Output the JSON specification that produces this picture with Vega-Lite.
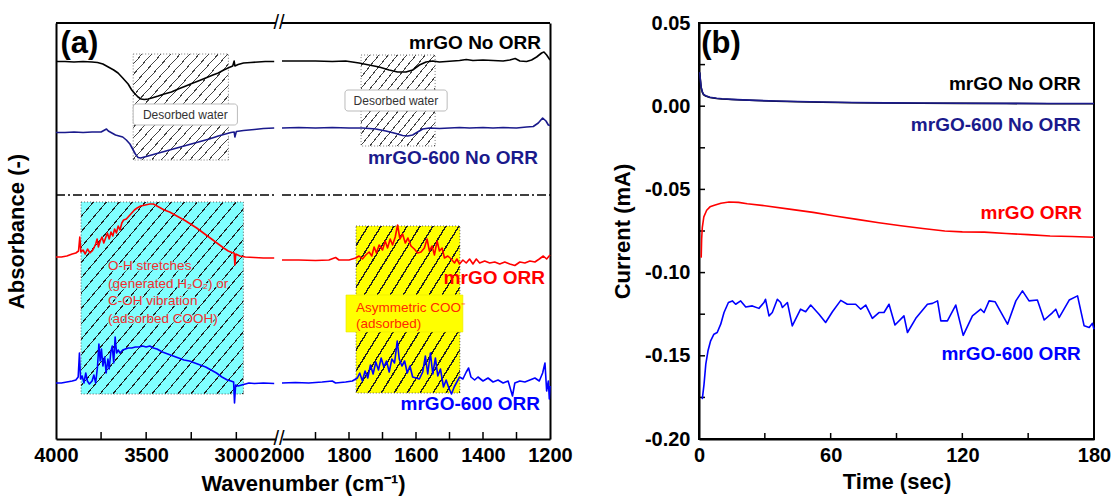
{
  "$schema": "https://vega.github.io/schema/vega-lite/v6.json",
  "padding": {"left": 5, "top": 12, "right": 0, "bottom": 3},
  "autosize": {"type": "pad"},
  "background": "#ffffff",
  "config": {
    "font": "Liberation Sans",
    "view": {"stroke": null},
    "axis": {"labelFont": "Liberation Sans", "labelFontSize": 20, "labelFontWeight": "bold", "labelColor": "#000", "titleFont": "Liberation Sans", "titleFontSize": 22, "titleFontWeight": "bold", "titleColor": "#000", "domainColor": "#000", "domainWidth": 2, "ticks": false, "grid": false, "labelOverlap": false, "labelFlush": false}
  },
  "datasets": {
    "hi": [
      {"w":4000,"a":377.5,"s":"mrGO No ORR"},{"w":3950,"a":377.5,"s":"mrGO No ORR"},{"w":3900,"a":377,"s":"mrGO No ORR"},{"w":3850,"a":377.5,"s":"mrGO No ORR"},{"w":3800,"a":377,"s":"mrGO No ORR"},{"w":3770,"a":376.5,"s":"mrGO No ORR"},{"w":3740,"a":375,"s":"mrGO No ORR"},{"w":3710,"a":372,"s":"mrGO No ORR"},{"w":3680,"a":369,"s":"mrGO No ORR"},{"w":3656,"a":366,"s":"mrGO No ORR"},{"w":3630,"a":361,"s":"mrGO No ORR"},{"w":3600,"a":355,"s":"mrGO No ORR"},{"w":3580,"a":349,"s":"mrGO No ORR"},{"w":3561,"a":345,"s":"mrGO No ORR"},{"w":3545,"a":342,"s":"mrGO No ORR"},{"w":3528,"a":340,"s":"mrGO No ORR"},{"w":3510,"a":339.5,"s":"mrGO No ORR"},{"w":3489,"a":340,"s":"mrGO No ORR"},{"w":3460,"a":341.5,"s":"mrGO No ORR"},{"w":3433,"a":343,"s":"mrGO No ORR"},{"w":3400,"a":345,"s":"mrGO No ORR"},{"w":3360,"a":347,"s":"mrGO No ORR"},{"w":3322,"a":350,"s":"mrGO No ORR"},{"w":3280,"a":353,"s":"mrGO No ORR"},{"w":3240,"a":356,"s":"mrGO No ORR"},{"w":3211,"a":358,"s":"mrGO No ORR"},{"w":3170,"a":361,"s":"mrGO No ORR"},{"w":3130,"a":364,"s":"mrGO No ORR"},{"w":3100,"a":366,"s":"mrGO No ORR"},{"w":3070,"a":369,"s":"mrGO No ORR"},{"w":3040,"a":371.5,"s":"mrGO No ORR"},{"w":3020,"a":373,"s":"mrGO No ORR"},{"w":3012,"a":378,"s":"mrGO No ORR"},{"w":3008,"a":373,"s":"mrGO No ORR"},{"w":2990,"a":374.5,"s":"mrGO No ORR"},{"w":2960,"a":376,"s":"mrGO No ORR"},{"w":2920,"a":376.5,"s":"mrGO No ORR"},{"w":2880,"a":377,"s":"mrGO No ORR"},{"w":2840,"a":377.5,"s":"mrGO No ORR"},{"w":2790,"a":377.5,"s":"mrGO No ORR"},
      {"w":4000,"a":306.5,"s":"mrGO-600 No ORR"},{"w":3950,"a":306.5,"s":"mrGO-600 No ORR"},{"w":3900,"a":307,"s":"mrGO-600 No ORR"},{"w":3850,"a":306.5,"s":"mrGO-600 No ORR"},{"w":3800,"a":307,"s":"mrGO-600 No ORR"},{"w":3750,"a":307,"s":"mrGO-600 No ORR"},{"w":3730,"a":309,"s":"mrGO-600 No ORR"},{"w":3720,"a":310,"s":"mrGO-600 No ORR"},{"w":3710,"a":308,"s":"mrGO-600 No ORR"},{"w":3690,"a":306,"s":"mrGO-600 No ORR"},{"w":3670,"a":304,"s":"mrGO-600 No ORR"},{"w":3650,"a":303,"s":"mrGO-600 No ORR"},{"w":3630,"a":302,"s":"mrGO-600 No ORR"},{"w":3610,"a":299,"s":"mrGO-600 No ORR"},{"w":3590,"a":295,"s":"mrGO-600 No ORR"},{"w":3575,"a":290,"s":"mrGO-600 No ORR"},{"w":3560,"a":285,"s":"mrGO-600 No ORR"},{"w":3545,"a":281.5,"s":"mrGO-600 No ORR"},{"w":3530,"a":281,"s":"mrGO-600 No ORR"},{"w":3500,"a":282.5,"s":"mrGO-600 No ORR"},{"w":3460,"a":284.5,"s":"mrGO-600 No ORR"},{"w":3420,"a":286.5,"s":"mrGO-600 No ORR"},{"w":3380,"a":288.5,"s":"mrGO-600 No ORR"},{"w":3340,"a":290.5,"s":"mrGO-600 No ORR"},{"w":3300,"a":292.5,"s":"mrGO-600 No ORR"},{"w":3250,"a":295,"s":"mrGO-600 No ORR"},{"w":3200,"a":297.5,"s":"mrGO-600 No ORR"},{"w":3150,"a":300,"s":"mrGO-600 No ORR"},{"w":3100,"a":303,"s":"mrGO-600 No ORR"},{"w":3060,"a":305,"s":"mrGO-600 No ORR"},{"w":3030,"a":306.5,"s":"mrGO-600 No ORR"},{"w":3012,"a":307,"s":"mrGO-600 No ORR"},{"w":3008,"a":302,"s":"mrGO-600 No ORR"},{"w":3000,"a":307.5,"s":"mrGO-600 No ORR"},{"w":2960,"a":308.5,"s":"mrGO-600 No ORR"},{"w":2900,"a":309.5,"s":"mrGO-600 No ORR"},{"w":2850,"a":310.5,"s":"mrGO-600 No ORR"},{"w":2790,"a":311,"s":"mrGO-600 No ORR"},
      {"w":4000,"a":182,"s":"mrGO ORR"},{"w":3970,"a":182,"s":"mrGO ORR"},{"w":3940,"a":183,"s":"mrGO ORR"},{"w":3910,"a":185,"s":"mrGO ORR"},{"w":3890,"a":186,"s":"mrGO ORR"},{"w":3875,"a":188,"s":"mrGO ORR"},{"w":3868,"a":202,"s":"mrGO ORR"},{"w":3862,"a":187,"s":"mrGO ORR"},{"w":3850,"a":189,"s":"mrGO ORR"},{"w":3838,"a":185,"s":"mrGO ORR"},{"w":3825,"a":190,"s":"mrGO ORR"},{"w":3812,"a":186,"s":"mrGO ORR"},{"w":3800,"a":188,"s":"mrGO ORR"},{"w":3790,"a":191,"s":"mrGO ORR"},{"w":3780,"a":195,"s":"mrGO ORR"},{"w":3772,"a":200,"s":"mrGO ORR"},{"w":3765,"a":192,"s":"mrGO ORR"},{"w":3755,"a":198,"s":"mrGO ORR"},{"w":3745,"a":202,"s":"mrGO ORR"},{"w":3735,"a":196,"s":"mrGO ORR"},{"w":3725,"a":201,"s":"mrGO ORR"},{"w":3715,"a":206,"s":"mrGO ORR"},{"w":3705,"a":200,"s":"mrGO ORR"},{"w":3695,"a":207,"s":"mrGO ORR"},{"w":3685,"a":203,"s":"mrGO ORR"},{"w":3675,"a":210,"s":"mrGO ORR"},{"w":3665,"a":206,"s":"mrGO ORR"},{"w":3655,"a":213,"s":"mrGO ORR"},{"w":3645,"a":209,"s":"mrGO ORR"},{"w":3635,"a":216,"s":"mrGO ORR"},{"w":3625,"a":219,"s":"mrGO ORR"},{"w":3610,"a":220,"s":"mrGO ORR"},{"w":3595,"a":223,"s":"mrGO ORR"},{"w":3580,"a":226,"s":"mrGO ORR"},{"w":3565,"a":229,"s":"mrGO ORR"},{"w":3550,"a":231,"s":"mrGO ORR"},{"w":3530,"a":233,"s":"mrGO ORR"},{"w":3505,"a":234,"s":"mrGO ORR"},{"w":3480,"a":235,"s":"mrGO ORR"},{"w":3460,"a":235,"s":"mrGO ORR"},{"w":3440,"a":233,"s":"mrGO ORR"},{"w":3420,"a":231,"s":"mrGO ORR"},{"w":3400,"a":229,"s":"mrGO ORR"},{"w":3370,"a":227,"s":"mrGO ORR"},{"w":3340,"a":224,"s":"mrGO ORR"},{"w":3310,"a":221,"s":"mrGO ORR"},{"w":3280,"a":218,"s":"mrGO ORR"},{"w":3250,"a":214.5,"s":"mrGO ORR"},{"w":3220,"a":211,"s":"mrGO ORR"},{"w":3190,"a":207,"s":"mrGO ORR"},{"w":3160,"a":203,"s":"mrGO ORR"},{"w":3130,"a":199,"s":"mrGO ORR"},{"w":3100,"a":195,"s":"mrGO ORR"},{"w":3070,"a":191,"s":"mrGO ORR"},{"w":3045,"a":188,"s":"mrGO ORR"},{"w":3025,"a":186.5,"s":"mrGO ORR"},{"w":3012,"a":186,"s":"mrGO ORR"},{"w":3008,"a":174,"s":"mrGO ORR"},{"w":3003,"a":185,"s":"mrGO ORR"},{"w":2980,"a":183,"s":"mrGO ORR"},{"w":2950,"a":182,"s":"mrGO ORR"},{"w":2900,"a":181.5,"s":"mrGO ORR"},{"w":2850,"a":181,"s":"mrGO ORR"},{"w":2790,"a":181,"s":"mrGO ORR"},
      {"w":4000,"a":56,"s":"mrGO-600 ORR"},{"w":3970,"a":56,"s":"mrGO-600 ORR"},{"w":3940,"a":57,"s":"mrGO-600 ORR"},{"w":3910,"a":58,"s":"mrGO-600 ORR"},{"w":3890,"a":59,"s":"mrGO-600 ORR"},{"w":3877,"a":62,"s":"mrGO-600 ORR"},{"w":3870,"a":86,"s":"mrGO-600 ORR"},{"w":3864,"a":60,"s":"mrGO-600 ORR"},{"w":3855,"a":63,"s":"mrGO-600 ORR"},{"w":3845,"a":56,"s":"mrGO-600 ORR"},{"w":3835,"a":66,"s":"mrGO-600 ORR"},{"w":3826,"a":58,"s":"mrGO-600 ORR"},{"w":3815,"a":55,"s":"mrGO-600 ORR"},{"w":3800,"a":58,"s":"mrGO-600 ORR"},{"w":3790,"a":64,"s":"mrGO-600 ORR"},{"w":3780,"a":56,"s":"mrGO-600 ORR"},{"w":3770,"a":72,"s":"mrGO-600 ORR"},{"w":3762,"a":95,"s":"mrGO-600 ORR"},{"w":3755,"a":78,"s":"mrGO-600 ORR"},{"w":3748,"a":90,"s":"mrGO-600 ORR"},{"w":3740,"a":73,"s":"mrGO-600 ORR"},{"w":3730,"a":82,"s":"mrGO-600 ORR"},{"w":3722,"a":66,"s":"mrGO-600 ORR"},{"w":3712,"a":80,"s":"mrGO-600 ORR"},{"w":3705,"a":70,"s":"mrGO-600 ORR"},{"w":3696,"a":87,"s":"mrGO-600 ORR"},{"w":3688,"a":93,"s":"mrGO-600 ORR"},{"w":3680,"a":76,"s":"mrGO-600 ORR"},{"w":3672,"a":102,"s":"mrGO-600 ORR"},{"w":3664,"a":86,"s":"mrGO-600 ORR"},{"w":3655,"a":89,"s":"mrGO-600 ORR"},{"w":3645,"a":86,"s":"mrGO-600 ORR"},{"w":3630,"a":89,"s":"mrGO-600 ORR"},{"w":3615,"a":90,"s":"mrGO-600 ORR"},{"w":3600,"a":91,"s":"mrGO-600 ORR"},{"w":3580,"a":91,"s":"mrGO-600 ORR"},{"w":3560,"a":92,"s":"mrGO-600 ORR"},{"w":3540,"a":92,"s":"mrGO-600 ORR"},{"w":3520,"a":93,"s":"mrGO-600 ORR"},{"w":3500,"a":92,"s":"mrGO-600 ORR"},{"w":3480,"a":93,"s":"mrGO-600 ORR"},{"w":3460,"a":91,"s":"mrGO-600 ORR"},{"w":3440,"a":90,"s":"mrGO-600 ORR"},{"w":3410,"a":87,"s":"mrGO-600 ORR"},{"w":3380,"a":85,"s":"mrGO-600 ORR"},{"w":3350,"a":83,"s":"mrGO-600 ORR"},{"w":3320,"a":81,"s":"mrGO-600 ORR"},{"w":3290,"a":79,"s":"mrGO-600 ORR"},{"w":3260,"a":78,"s":"mrGO-600 ORR"},{"w":3230,"a":76,"s":"mrGO-600 ORR"},{"w":3200,"a":74,"s":"mrGO-600 ORR"},{"w":3170,"a":72,"s":"mrGO-600 ORR"},{"w":3140,"a":69,"s":"mrGO-600 ORR"},{"w":3110,"a":66,"s":"mrGO-600 ORR"},{"w":3080,"a":62,"s":"mrGO-600 ORR"},{"w":3050,"a":59,"s":"mrGO-600 ORR"},{"w":3030,"a":58,"s":"mrGO-600 ORR"},{"w":3015,"a":57,"s":"mrGO-600 ORR"},{"w":3010,"a":36,"s":"mrGO-600 ORR"},{"w":3004,"a":54,"s":"mrGO-600 ORR"},{"w":2990,"a":53,"s":"mrGO-600 ORR"},{"w":2970,"a":54,"s":"mrGO-600 ORR"},{"w":2950,"a":55,"s":"mrGO-600 ORR"},{"w":2930,"a":56,"s":"mrGO-600 ORR"},{"w":2900,"a":55.5,"s":"mrGO-600 ORR"},{"w":2850,"a":56,"s":"mrGO-600 ORR"},{"w":2790,"a":55.5,"s":"mrGO-600 ORR"}
    ],
    "lo": [
      {"w":2000,"a":378,"s":"mrGO No ORR"},{"w":1950,"a":378,"s":"mrGO No ORR"},{"w":1900,"a":378,"s":"mrGO No ORR"},{"w":1850,"a":377.5,"s":"mrGO No ORR"},{"w":1810,"a":378,"s":"mrGO No ORR"},{"w":1790,"a":377,"s":"mrGO No ORR"},{"w":1770,"a":376,"s":"mrGO No ORR"},{"w":1740,"a":374,"s":"mrGO No ORR"},{"w":1710,"a":372,"s":"mrGO No ORR"},{"w":1680,"a":369,"s":"mrGO No ORR"},{"w":1655,"a":367,"s":"mrGO No ORR"},{"w":1630,"a":367,"s":"mrGO No ORR"},{"w":1610,"a":369,"s":"mrGO No ORR"},{"w":1590,"a":374,"s":"mrGO No ORR"},{"w":1570,"a":377,"s":"mrGO No ORR"},{"w":1550,"a":378,"s":"mrGO No ORR"},{"w":1530,"a":377,"s":"mrGO No ORR"},{"w":1510,"a":377.5,"s":"mrGO No ORR"},{"w":1490,"a":378,"s":"mrGO No ORR"},{"w":1470,"a":378.5,"s":"mrGO No ORR"},{"w":1450,"a":379.5,"s":"mrGO No ORR"},{"w":1430,"a":378.5,"s":"mrGO No ORR"},{"w":1400,"a":379,"s":"mrGO No ORR"},{"w":1370,"a":378.5,"s":"mrGO No ORR"},{"w":1340,"a":378,"s":"mrGO No ORR"},{"w":1320,"a":379,"s":"mrGO No ORR"},{"w":1304,"a":380.5,"s":"mrGO No ORR"},{"w":1290,"a":378,"s":"mrGO No ORR"},{"w":1270,"a":377.5,"s":"mrGO No ORR"},{"w":1255,"a":379,"s":"mrGO No ORR"},{"w":1240,"a":382,"s":"mrGO No ORR"},{"w":1225,"a":386,"s":"mrGO No ORR"},{"w":1218,"a":387,"s":"mrGO No ORR"},{"w":1210,"a":384,"s":"mrGO No ORR"},{"w":1200,"a":379,"s":"mrGO No ORR"},
      {"w":2000,"a":311,"s":"mrGO-600 No ORR"},{"w":1950,"a":311.5,"s":"mrGO-600 No ORR"},{"w":1900,"a":311,"s":"mrGO-600 No ORR"},{"w":1850,"a":311.5,"s":"mrGO-600 No ORR"},{"w":1800,"a":311,"s":"mrGO-600 No ORR"},{"w":1760,"a":311,"s":"mrGO-600 No ORR"},{"w":1720,"a":310,"s":"mrGO-600 No ORR"},{"w":1690,"a":308,"s":"mrGO-600 No ORR"},{"w":1660,"a":305.5,"s":"mrGO-600 No ORR"},{"w":1640,"a":303.5,"s":"mrGO-600 No ORR"},{"w":1625,"a":303,"s":"mrGO-600 No ORR"},{"w":1610,"a":304,"s":"mrGO-600 No ORR"},{"w":1595,"a":307,"s":"mrGO-600 No ORR"},{"w":1580,"a":310,"s":"mrGO-600 No ORR"},{"w":1560,"a":311,"s":"mrGO-600 No ORR"},{"w":1530,"a":310.5,"s":"mrGO-600 No ORR"},{"w":1500,"a":311,"s":"mrGO-600 No ORR"},{"w":1470,"a":311.5,"s":"mrGO-600 No ORR"},{"w":1440,"a":311,"s":"mrGO-600 No ORR"},{"w":1400,"a":311.5,"s":"mrGO-600 No ORR"},{"w":1370,"a":311,"s":"mrGO-600 No ORR"},{"w":1340,"a":311.5,"s":"mrGO-600 No ORR"},{"w":1300,"a":311,"s":"mrGO-600 No ORR"},{"w":1270,"a":312,"s":"mrGO-600 No ORR"},{"w":1250,"a":312.5,"s":"mrGO-600 No ORR"},{"w":1235,"a":316,"s":"mrGO-600 No ORR"},{"w":1222,"a":321,"s":"mrGO-600 No ORR"},{"w":1212,"a":318,"s":"mrGO-600 No ORR"},{"w":1205,"a":314,"s":"mrGO-600 No ORR"},{"w":1200,"a":313.5,"s":"mrGO-600 No ORR"},
      {"w":2000,"a":179,"s":"mrGO ORR"},{"w":1950,"a":179,"s":"mrGO ORR"},{"w":1900,"a":178.5,"s":"mrGO ORR"},{"w":1860,"a":179,"s":"mrGO ORR"},{"w":1840,"a":181.5,"s":"mrGO ORR"},{"w":1830,"a":179,"s":"mrGO ORR"},{"w":1800,"a":179,"s":"mrGO ORR"},{"w":1780,"a":181,"s":"mrGO ORR"},{"w":1770,"a":183,"s":"mrGO ORR"},{"w":1760,"a":180,"s":"mrGO ORR"},{"w":1750,"a":184,"s":"mrGO ORR"},{"w":1740,"a":187,"s":"mrGO ORR"},{"w":1732,"a":183,"s":"mrGO ORR"},{"w":1725,"a":192,"s":"mrGO ORR"},{"w":1718,"a":186,"s":"mrGO ORR"},{"w":1710,"a":194,"s":"mrGO ORR"},{"w":1700,"a":189,"s":"mrGO ORR"},{"w":1692,"a":198,"s":"mrGO ORR"},{"w":1685,"a":191,"s":"mrGO ORR"},{"w":1677,"a":200,"s":"mrGO ORR"},{"w":1670,"a":194,"s":"mrGO ORR"},{"w":1662,"a":202,"s":"mrGO ORR"},{"w":1655,"a":214,"s":"mrGO ORR"},{"w":1648,"a":200,"s":"mrGO ORR"},{"w":1640,"a":205,"s":"mrGO ORR"},{"w":1632,"a":196,"s":"mrGO ORR"},{"w":1624,"a":201,"s":"mrGO ORR"},{"w":1615,"a":193,"s":"mrGO ORR"},{"w":1605,"a":190,"s":"mrGO ORR"},{"w":1595,"a":186,"s":"mrGO ORR"},{"w":1585,"a":187,"s":"mrGO ORR"},{"w":1575,"a":191,"s":"mrGO ORR"},{"w":1567,"a":200,"s":"mrGO ORR"},{"w":1560,"a":188,"s":"mrGO ORR"},{"w":1552,"a":193,"s":"mrGO ORR"},{"w":1545,"a":184,"s":"mrGO ORR"},{"w":1537,"a":198,"s":"mrGO ORR"},{"w":1530,"a":188,"s":"mrGO ORR"},{"w":1522,"a":191,"s":"mrGO ORR"},{"w":1515,"a":181,"s":"mrGO ORR"},{"w":1505,"a":183,"s":"mrGO ORR"},{"w":1495,"a":180,"s":"mrGO ORR"},{"w":1485,"a":176,"s":"mrGO ORR"},{"w":1478,"a":180,"s":"mrGO ORR"},{"w":1470,"a":175,"s":"mrGO ORR"},{"w":1460,"a":179,"s":"mrGO ORR"},{"w":1450,"a":176,"s":"mrGO ORR"},{"w":1440,"a":180,"s":"mrGO ORR"},{"w":1430,"a":175,"s":"mrGO ORR"},{"w":1420,"a":180,"s":"mrGO ORR"},{"w":1410,"a":176,"s":"mrGO ORR"},{"w":1395,"a":178,"s":"mrGO ORR"},{"w":1380,"a":176,"s":"mrGO ORR"},{"w":1365,"a":177,"s":"mrGO ORR"},{"w":1350,"a":175,"s":"mrGO ORR"},{"w":1335,"a":177,"s":"mrGO ORR"},{"w":1320,"a":175,"s":"mrGO ORR"},{"w":1305,"a":173.5,"s":"mrGO ORR"},{"w":1290,"a":177,"s":"mrGO ORR"},{"w":1275,"a":176,"s":"mrGO ORR"},{"w":1260,"a":178,"s":"mrGO ORR"},{"w":1245,"a":177,"s":"mrGO ORR"},{"w":1232,"a":180,"s":"mrGO ORR"},{"w":1220,"a":183,"s":"mrGO ORR"},{"w":1210,"a":180,"s":"mrGO ORR"},{"w":1200,"a":184,"s":"mrGO ORR"},
      {"w":2000,"a":56,"s":"mrGO-600 ORR"},{"w":1960,"a":56.5,"s":"mrGO-600 ORR"},{"w":1920,"a":56,"s":"mrGO-600 ORR"},{"w":1880,"a":57,"s":"mrGO-600 ORR"},{"w":1850,"a":58,"s":"mrGO-600 ORR"},{"w":1840,"a":56,"s":"mrGO-600 ORR"},{"w":1810,"a":57,"s":"mrGO-600 ORR"},{"w":1790,"a":58,"s":"mrGO-600 ORR"},{"w":1775,"a":61,"s":"mrGO-600 ORR"},{"w":1768,"a":66,"s":"mrGO-600 ORR"},{"w":1760,"a":58,"s":"mrGO-600 ORR"},{"w":1752,"a":68,"s":"mrGO-600 ORR"},{"w":1744,"a":61,"s":"mrGO-600 ORR"},{"w":1736,"a":74,"s":"mrGO-600 ORR"},{"w":1728,"a":65,"s":"mrGO-600 ORR"},{"w":1720,"a":77,"s":"mrGO-600 ORR"},{"w":1712,"a":69,"s":"mrGO-600 ORR"},{"w":1704,"a":81,"s":"mrGO-600 ORR"},{"w":1696,"a":72,"s":"mrGO-600 ORR"},{"w":1688,"a":78,"s":"mrGO-600 ORR"},{"w":1680,"a":67,"s":"mrGO-600 ORR"},{"w":1672,"a":80,"s":"mrGO-600 ORR"},{"w":1664,"a":76,"s":"mrGO-600 ORR"},{"w":1656,"a":98,"s":"mrGO-600 ORR"},{"w":1650,"a":80,"s":"mrGO-600 ORR"},{"w":1642,"a":73,"s":"mrGO-600 ORR"},{"w":1634,"a":78,"s":"mrGO-600 ORR"},{"w":1626,"a":66,"s":"mrGO-600 ORR"},{"w":1618,"a":73,"s":"mrGO-600 ORR"},{"w":1610,"a":62,"s":"mrGO-600 ORR"},{"w":1600,"a":61,"s":"mrGO-600 ORR"},{"w":1590,"a":60,"s":"mrGO-600 ORR"},{"w":1580,"a":67,"s":"mrGO-600 ORR"},{"w":1572,"a":83,"s":"mrGO-600 ORR"},{"w":1565,"a":65,"s":"mrGO-600 ORR"},{"w":1557,"a":86,"s":"mrGO-600 ORR"},{"w":1550,"a":65,"s":"mrGO-600 ORR"},{"w":1542,"a":81,"s":"mrGO-600 ORR"},{"w":1535,"a":63,"s":"mrGO-600 ORR"},{"w":1527,"a":70,"s":"mrGO-600 ORR"},{"w":1518,"a":52,"s":"mrGO-600 ORR"},{"w":1510,"a":59,"s":"mrGO-600 ORR"},{"w":1502,"a":51,"s":"mrGO-600 ORR"},{"w":1494,"a":45,"s":"mrGO-600 ORR"},{"w":1486,"a":52,"s":"mrGO-600 ORR"},{"w":1478,"a":57,"s":"mrGO-600 ORR"},{"w":1470,"a":62,"s":"mrGO-600 ORR"},{"w":1460,"a":60,"s":"mrGO-600 ORR"},{"w":1450,"a":67,"s":"mrGO-600 ORR"},{"w":1443,"a":71,"s":"mrGO-600 ORR"},{"w":1436,"a":62,"s":"mrGO-600 ORR"},{"w":1425,"a":59,"s":"mrGO-600 ORR"},{"w":1415,"a":62,"s":"mrGO-600 ORR"},{"w":1400,"a":58,"s":"mrGO-600 ORR"},{"w":1385,"a":61,"s":"mrGO-600 ORR"},{"w":1370,"a":57,"s":"mrGO-600 ORR"},{"w":1355,"a":59,"s":"mrGO-600 ORR"},{"w":1340,"a":56,"s":"mrGO-600 ORR"},{"w":1325,"a":58,"s":"mrGO-600 ORR"},{"w":1312,"a":43,"s":"mrGO-600 ORR"},{"w":1305,"a":56,"s":"mrGO-600 ORR"},{"w":1290,"a":58,"s":"mrGO-600 ORR"},{"w":1275,"a":57,"s":"mrGO-600 ORR"},{"w":1260,"a":59,"s":"mrGO-600 ORR"},{"w":1245,"a":61,"s":"mrGO-600 ORR"},{"w":1232,"a":58,"s":"mrGO-600 ORR"},{"w":1222,"a":66,"s":"mrGO-600 ORR"},{"w":1215,"a":76,"s":"mrGO-600 ORR"},{"w":1210,"a":48,"s":"mrGO-600 ORR"},{"w":1205,"a":58,"s":"mrGO-600 ORR"},{"w":1202,"a":40,"s":"mrGO-600 ORR"},{"w":1200,"a":53,"s":"mrGO-600 ORR"}
    ],
    "ca": [
      {"t":0.3,"i":0.02,"s":"mrGO No ORR"},{"t":0.6,"i":0.016,"s":"mrGO No ORR"},{"t":1,"i":0.011,"s":"mrGO No ORR"},{"t":1.5,"i":0.0085,"s":"mrGO No ORR"},{"t":2,"i":0.007,"s":"mrGO No ORR"},{"t":3,"i":0.0061,"s":"mrGO No ORR"},{"t":5,"i":0.0052,"s":"mrGO No ORR"},{"t":8,"i":0.0046,"s":"mrGO No ORR"},{"t":10.5,"i":0.0043,"s":"mrGO No ORR"},{"t":15,"i":0.004,"s":"mrGO No ORR"},{"t":20,"i":0.0037,"s":"mrGO No ORR"},{"t":26,"i":0.0034,"s":"mrGO No ORR"},{"t":35,"i":0.003,"s":"mrGO No ORR"},{"t":45,"i":0.0027,"s":"mrGO No ORR"},{"t":56,"i":0.0024,"s":"mrGO No ORR"},{"t":70,"i":0.0021,"s":"mrGO No ORR"},{"t":85,"i":0.0019,"s":"mrGO No ORR"},{"t":101,"i":0.0018,"s":"mrGO No ORR"},{"t":120,"i":0.0017,"s":"mrGO No ORR"},{"t":140,"i":0.0016,"s":"mrGO No ORR"},{"t":160,"i":0.0015,"s":"mrGO No ORR"},{"t":180,"i":0.0015,"s":"mrGO No ORR"},
      {"t":0.3,"i":0.0205,"s":"mrGO-600 No ORR"},{"t":0.6,"i":0.0163,"s":"mrGO-600 No ORR"},{"t":1,"i":0.0113,"s":"mrGO-600 No ORR"},{"t":1.5,"i":0.0088,"s":"mrGO-600 No ORR"},{"t":2,"i":0.0073,"s":"mrGO-600 No ORR"},{"t":3,"i":0.0063,"s":"mrGO-600 No ORR"},{"t":5,"i":0.0054,"s":"mrGO-600 No ORR"},{"t":8,"i":0.0048,"s":"mrGO-600 No ORR"},{"t":10.5,"i":0.0045,"s":"mrGO-600 No ORR"},{"t":15,"i":0.0041,"s":"mrGO-600 No ORR"},{"t":20,"i":0.0038,"s":"mrGO-600 No ORR"},{"t":26,"i":0.0035,"s":"mrGO-600 No ORR"},{"t":35,"i":0.0031,"s":"mrGO-600 No ORR"},{"t":45,"i":0.0028,"s":"mrGO-600 No ORR"},{"t":56,"i":0.0025,"s":"mrGO-600 No ORR"},{"t":70,"i":0.0022,"s":"mrGO-600 No ORR"},{"t":85,"i":0.002,"s":"mrGO-600 No ORR"},{"t":101,"i":0.0019,"s":"mrGO-600 No ORR"},{"t":120,"i":0.0018,"s":"mrGO-600 No ORR"},{"t":140,"i":0.0017,"s":"mrGO-600 No ORR"},{"t":160,"i":0.0016,"s":"mrGO-600 No ORR"},{"t":180,"i":0.0016,"s":"mrGO-600 No ORR"},
      {"t":1,"i":-0.091,"s":"mrGO ORR"},{"t":1.2,"i":-0.08,"s":"mrGO ORR"},{"t":1.5,"i":-0.073,"s":"mrGO ORR"},{"t":2.2,"i":-0.0665,"s":"mrGO ORR"},{"t":3.5,"i":-0.0625,"s":"mrGO ORR"},{"t":5,"i":-0.0605,"s":"mrGO ORR"},{"t":7,"i":-0.0595,"s":"mrGO ORR"},{"t":10,"i":-0.0583,"s":"mrGO ORR"},{"t":13.7,"i":-0.0576,"s":"mrGO ORR"},{"t":18,"i":-0.0578,"s":"mrGO ORR"},{"t":22,"i":-0.0586,"s":"mrGO ORR"},{"t":30,"i":-0.0598,"s":"mrGO ORR"},{"t":42,"i":-0.062,"s":"mrGO ORR"},{"t":52,"i":-0.0638,"s":"mrGO ORR"},{"t":62,"i":-0.066,"s":"mrGO ORR"},{"t":72,"i":-0.068,"s":"mrGO ORR"},{"t":82,"i":-0.07,"s":"mrGO ORR"},{"t":92,"i":-0.0718,"s":"mrGO ORR"},{"t":102,"i":-0.0735,"s":"mrGO ORR"},{"t":112,"i":-0.075,"s":"mrGO ORR"},{"t":120,"i":-0.0755,"s":"mrGO ORR"},{"t":130,"i":-0.0757,"s":"mrGO ORR"},{"t":140,"i":-0.0765,"s":"mrGO ORR"},{"t":150,"i":-0.0772,"s":"mrGO ORR"},{"t":160,"i":-0.078,"s":"mrGO ORR"},{"t":170,"i":-0.0783,"s":"mrGO ORR"},{"t":180,"i":-0.0788,"s":"mrGO ORR"},
      {"t":1.5,"i":-0.176,"s":"mrGO-600 ORR"},{"t":2.3,"i":-0.167,"s":"mrGO-600 ORR"},{"t":3.1,"i":-0.155,"s":"mrGO-600 ORR"},{"t":4.1,"i":-0.147,"s":"mrGO-600 ORR"},{"t":5.3,"i":-0.141,"s":"mrGO-600 ORR"},{"t":6.8,"i":-0.137,"s":"mrGO-600 ORR"},{"t":8.3,"i":-0.136,"s":"mrGO-600 ORR"},{"t":9.9,"i":-0.131,"s":"mrGO-600 ORR"},{"t":11.4,"i":-0.124,"s":"mrGO-600 ORR"},{"t":13.4,"i":-0.118,"s":"mrGO-600 ORR"},{"t":15.2,"i":-0.117,"s":"mrGO-600 ORR"},{"t":16.7,"i":-0.119,"s":"mrGO-600 ORR"},{"t":19,"i":-0.117,"s":"mrGO-600 ORR"},{"t":21.3,"i":-0.1207,"s":"mrGO-600 ORR"},{"t":24.3,"i":-0.12,"s":"mrGO-600 ORR"},{"t":27.3,"i":-0.1215,"s":"mrGO-600 ORR"},{"t":29.6,"i":-0.118,"s":"mrGO-600 ORR"},{"t":30.3,"i":-0.116,"s":"mrGO-600 ORR"},{"t":31.9,"i":-0.126,"s":"mrGO-600 ORR"},{"t":33.4,"i":-0.124,"s":"mrGO-600 ORR"},{"t":35.7,"i":-0.116,"s":"mrGO-600 ORR"},{"t":37.2,"i":-0.118,"s":"mrGO-600 ORR"},{"t":38,"i":-0.121,"s":"mrGO-600 ORR"},{"t":40.3,"i":-0.118,"s":"mrGO-600 ORR"},{"t":42.5,"i":-0.132,"s":"mrGO-600 ORR"},{"t":46.3,"i":-0.122,"s":"mrGO-600 ORR"},{"t":48.6,"i":-0.1235,"s":"mrGO-600 ORR"},{"t":50.9,"i":-0.1195,"s":"mrGO-600 ORR"},{"t":54.7,"i":-0.125,"s":"mrGO-600 ORR"},{"t":57.7,"i":-0.13,"s":"mrGO-600 ORR"},{"t":60.8,"i":-0.1235,"s":"mrGO-600 ORR"},{"t":64.6,"i":-0.1167,"s":"mrGO-600 ORR"},{"t":67.6,"i":-0.119,"s":"mrGO-600 ORR"},{"t":71.4,"i":-0.119,"s":"mrGO-600 ORR"},{"t":73.7,"i":-0.122,"s":"mrGO-600 ORR"},{"t":76,"i":-0.1195,"s":"mrGO-600 ORR"},{"t":79,"i":-0.1275,"s":"mrGO-600 ORR"},{"t":82,"i":-0.124,"s":"mrGO-600 ORR"},{"t":84.3,"i":-0.124,"s":"mrGO-600 ORR"},{"t":86.6,"i":-0.119,"s":"mrGO-600 ORR"},{"t":89.3,"i":-0.1315,"s":"mrGO-600 ORR"},{"t":93.4,"i":-0.126,"s":"mrGO-600 ORR"},{"t":95,"i":-0.136,"s":"mrGO-600 ORR"},{"t":98.8,"i":-0.1275,"s":"mrGO-600 ORR"},{"t":104.1,"i":-0.119,"s":"mrGO-600 ORR"},{"t":106.4,"i":-0.1185,"s":"mrGO-600 ORR"},{"t":108.7,"i":-0.117,"s":"mrGO-600 ORR"},{"t":110.2,"i":-0.129,"s":"mrGO-600 ORR"},{"t":113.2,"i":-0.129,"s":"mrGO-600 ORR"},{"t":117,"i":-0.1195,"s":"mrGO-600 ORR"},{"t":120.4,"i":-0.1377,"s":"mrGO-600 ORR"},{"t":124.6,"i":-0.126,"s":"mrGO-600 ORR"},{"t":128.4,"i":-0.122,"s":"mrGO-600 ORR"},{"t":129.9,"i":-0.124,"s":"mrGO-600 ORR"},{"t":132.2,"i":-0.117,"s":"mrGO-600 ORR"},{"t":134.9,"i":-0.1175,"s":"mrGO-600 ORR"},{"t":136.8,"i":-0.122,"s":"mrGO-600 ORR"},{"t":140.6,"i":-0.131,"s":"mrGO-600 ORR"},{"t":144.4,"i":-0.117,"s":"mrGO-600 ORR"},{"t":147.4,"i":-0.111,"s":"mrGO-600 ORR"},{"t":150.4,"i":-0.117,"s":"mrGO-600 ORR"},{"t":154.2,"i":-0.1165,"s":"mrGO-600 ORR"},{"t":157.3,"i":-0.1285,"s":"mrGO-600 ORR"},{"t":161.1,"i":-0.124,"s":"mrGO-600 ORR"},{"t":162.6,"i":-0.122,"s":"mrGO-600 ORR"},{"t":164.1,"i":-0.127,"s":"mrGO-600 ORR"},{"t":168.7,"i":-0.1165,"s":"mrGO-600 ORR"},{"t":172.5,"i":-0.114,"s":"mrGO-600 ORR"},{"t":175.5,"i":-0.132,"s":"mrGO-600 ORR"},{"t":177.8,"i":-0.133,"s":"mrGO-600 ORR"},{"t":179.3,"i":-0.1305,"s":"mrGO-600 ORR"},{"t":180,"i":-0.134,"s":"mrGO-600 ORR"}
    ]
  },
  "spacing": 37,
  "hconcat": [
    {
      "bounds": "flush",
      "spacing": 6,
      "hconcat": [
        {
          "width": 220,
          "height": 416,
          "encoding": {
            "x": {"field": "w", "type": "quantitative", "scale": {"domain": [2780, 4000], "reverse": true, "nice": false, "zero": false},
                  "axis": {"values": [4000, 3500, 3000], "format": "d", "labelPadding": 6, "title": null}},
            "y": {"field": "a", "type": "quantitative", "scale": {"domain": [0, 416], "nice": false, "zero": false},
                  "axis": {"labels": false, "title": "Absorbance (-)", "titlePadding": 28}}
          },
          "layer": [
            {
              "data": {"values": [{"w": 3861, "w2": 2961, "a": 45, "a2": 237}]},
              "mark": {"type": "rect", "stroke": "#333", "strokeDash": [1, 2], "strokeWidth": 0.8,
                "fill": {"gradient": "linear", "x1": 0, "y1": 0, "x2": 1, "y2": 1, "stops": [
                  {"offset":0,"color":"#80ffff"},{"offset":0.036,"color":"#80ffff"},{"offset":0.036,"color":"#222"},{"offset":0.04,"color":"#222"},
                  {"offset":0.04,"color":"#80ffff"},{"offset":0.076,"color":"#80ffff"},{"offset":0.076,"color":"#222"},{"offset":0.08,"color":"#222"},
                  {"offset":0.08,"color":"#80ffff"},{"offset":0.116,"color":"#80ffff"},{"offset":0.116,"color":"#222"},{"offset":0.12,"color":"#222"},
                  {"offset":0.12,"color":"#80ffff"},{"offset":0.156,"color":"#80ffff"},{"offset":0.156,"color":"#222"},{"offset":0.16,"color":"#222"},
                  {"offset":0.16,"color":"#80ffff"},{"offset":0.196,"color":"#80ffff"},{"offset":0.196,"color":"#222"},{"offset":0.2,"color":"#222"},
                  {"offset":0.2,"color":"#80ffff"},{"offset":0.236,"color":"#80ffff"},{"offset":0.236,"color":"#222"},{"offset":0.24,"color":"#222"},
                  {"offset":0.24,"color":"#80ffff"},{"offset":0.276,"color":"#80ffff"},{"offset":0.276,"color":"#222"},{"offset":0.28,"color":"#222"},
                  {"offset":0.28,"color":"#80ffff"},{"offset":0.316,"color":"#80ffff"},{"offset":0.316,"color":"#222"},{"offset":0.32,"color":"#222"},
                  {"offset":0.32,"color":"#80ffff"},{"offset":0.356,"color":"#80ffff"},{"offset":0.356,"color":"#222"},{"offset":0.36,"color":"#222"},
                  {"offset":0.36,"color":"#80ffff"},{"offset":0.396,"color":"#80ffff"},{"offset":0.396,"color":"#222"},{"offset":0.4,"color":"#222"},
                  {"offset":0.4,"color":"#80ffff"},{"offset":0.436,"color":"#80ffff"},{"offset":0.436,"color":"#222"},{"offset":0.44,"color":"#222"},
                  {"offset":0.44,"color":"#80ffff"},{"offset":0.476,"color":"#80ffff"},{"offset":0.476,"color":"#222"},{"offset":0.48,"color":"#222"},
                  {"offset":0.48,"color":"#80ffff"},{"offset":0.516,"color":"#80ffff"},{"offset":0.516,"color":"#222"},{"offset":0.52,"color":"#222"},
                  {"offset":0.52,"color":"#80ffff"},{"offset":0.556,"color":"#80ffff"},{"offset":0.556,"color":"#222"},{"offset":0.56,"color":"#222"},
                  {"offset":0.56,"color":"#80ffff"},{"offset":0.596,"color":"#80ffff"},{"offset":0.596,"color":"#222"},{"offset":0.6,"color":"#222"},
                  {"offset":0.6,"color":"#80ffff"},{"offset":0.636,"color":"#80ffff"},{"offset":0.636,"color":"#222"},{"offset":0.64,"color":"#222"},
                  {"offset":0.64,"color":"#80ffff"},{"offset":0.676,"color":"#80ffff"},{"offset":0.676,"color":"#222"},{"offset":0.68,"color":"#222"},
                  {"offset":0.68,"color":"#80ffff"},{"offset":0.716,"color":"#80ffff"},{"offset":0.716,"color":"#222"},{"offset":0.72,"color":"#222"},
                  {"offset":0.72,"color":"#80ffff"},{"offset":0.756,"color":"#80ffff"},{"offset":0.756,"color":"#222"},{"offset":0.76,"color":"#222"},
                  {"offset":0.76,"color":"#80ffff"},{"offset":0.796,"color":"#80ffff"},{"offset":0.796,"color":"#222"},{"offset":0.8,"color":"#222"},
                  {"offset":0.8,"color":"#80ffff"},{"offset":0.836,"color":"#80ffff"},{"offset":0.836,"color":"#222"},{"offset":0.84,"color":"#222"},
                  {"offset":0.84,"color":"#80ffff"},{"offset":0.876,"color":"#80ffff"},{"offset":0.876,"color":"#222"},{"offset":0.88,"color":"#222"},
                  {"offset":0.88,"color":"#80ffff"},{"offset":0.916,"color":"#80ffff"},{"offset":0.916,"color":"#222"},{"offset":0.92,"color":"#222"},
                  {"offset":0.92,"color":"#80ffff"},{"offset":0.956,"color":"#80ffff"},{"offset":0.956,"color":"#222"},{"offset":0.96,"color":"#222"},
                  {"offset":0.96,"color":"#80ffff"},{"offset":0.996,"color":"#80ffff"},{"offset":0.996,"color":"#222"},{"offset":1,"color":"#222"}
                ]}},
              "encoding": {"x2": {"field": "w2"}, "y2": {"field": "a2"}}
            },
            {
              "data": {"values": [{"w": 3572, "w2": 3044, "a": 279, "a2": 385}]},
              "mark": {"type": "rect", "stroke": "#555", "strokeDash": [1, 2], "strokeWidth": 0.8,
                "fill": {"gradient": "linear", "x1": 0, "y1": 0, "x2": 1, "y2": 1, "stops": [
                  {"offset":0,"color":"#fff"},{"offset":0.044,"color":"#fff"},{"offset":0.044,"color":"#444"},{"offset":0.05,"color":"#444"},
                  {"offset":0.05,"color":"#fff"},{"offset":0.094,"color":"#fff"},{"offset":0.094,"color":"#444"},{"offset":0.1,"color":"#444"},
                  {"offset":0.1,"color":"#fff"},{"offset":0.144,"color":"#fff"},{"offset":0.144,"color":"#444"},{"offset":0.15,"color":"#444"},
                  {"offset":0.15,"color":"#fff"},{"offset":0.194,"color":"#fff"},{"offset":0.194,"color":"#444"},{"offset":0.2,"color":"#444"},
                  {"offset":0.2,"color":"#fff"},{"offset":0.244,"color":"#fff"},{"offset":0.244,"color":"#444"},{"offset":0.25,"color":"#444"},
                  {"offset":0.25,"color":"#fff"},{"offset":0.294,"color":"#fff"},{"offset":0.294,"color":"#444"},{"offset":0.3,"color":"#444"},
                  {"offset":0.3,"color":"#fff"},{"offset":0.344,"color":"#fff"},{"offset":0.344,"color":"#444"},{"offset":0.35,"color":"#444"},
                  {"offset":0.35,"color":"#fff"},{"offset":0.394,"color":"#fff"},{"offset":0.394,"color":"#444"},{"offset":0.4,"color":"#444"},
                  {"offset":0.4,"color":"#fff"},{"offset":0.444,"color":"#fff"},{"offset":0.444,"color":"#444"},{"offset":0.45,"color":"#444"},
                  {"offset":0.45,"color":"#fff"},{"offset":0.494,"color":"#fff"},{"offset":0.494,"color":"#444"},{"offset":0.5,"color":"#444"},
                  {"offset":0.5,"color":"#fff"},{"offset":0.544,"color":"#fff"},{"offset":0.544,"color":"#444"},{"offset":0.55,"color":"#444"},
                  {"offset":0.55,"color":"#fff"},{"offset":0.594,"color":"#fff"},{"offset":0.594,"color":"#444"},{"offset":0.6,"color":"#444"},
                  {"offset":0.6,"color":"#fff"},{"offset":0.644,"color":"#fff"},{"offset":0.644,"color":"#444"},{"offset":0.65,"color":"#444"},
                  {"offset":0.65,"color":"#fff"},{"offset":0.694,"color":"#fff"},{"offset":0.694,"color":"#444"},{"offset":0.7,"color":"#444"},
                  {"offset":0.7,"color":"#fff"},{"offset":0.744,"color":"#fff"},{"offset":0.744,"color":"#444"},{"offset":0.75,"color":"#444"},
                  {"offset":0.75,"color":"#fff"},{"offset":0.794,"color":"#fff"},{"offset":0.794,"color":"#444"},{"offset":0.8,"color":"#444"},
                  {"offset":0.8,"color":"#fff"},{"offset":0.844,"color":"#fff"},{"offset":0.844,"color":"#444"},{"offset":0.85,"color":"#444"},
                  {"offset":0.85,"color":"#fff"},{"offset":0.894,"color":"#fff"},{"offset":0.894,"color":"#444"},{"offset":0.9,"color":"#444"},
                  {"offset":0.9,"color":"#fff"},{"offset":0.944,"color":"#fff"},{"offset":0.944,"color":"#444"},{"offset":0.95,"color":"#444"},
                  {"offset":0.95,"color":"#fff"},{"offset":0.994,"color":"#fff"},{"offset":0.994,"color":"#444"},{"offset":1,"color":"#444"}
                ]}},
              "encoding": {"x2": {"field": "w2"}, "y2": {"field": "a2"}}
            },
            {
              "data": {"values": [{"w": 3572, "w2": 2994, "a": 314, "a2": 335}]},
              "mark": {"type": "rect", "fill": "#ffffff", "stroke": "#bbbbbb", "strokeWidth": 1, "cornerRadius": 3},
              "encoding": {"x2": {"field": "w2"}, "y2": {"field": "a2"}}
            },
            {
              "data": {"values": [{"w": 3283, "a": 324.5, "label": "Desorbed water"}]},
              "mark": {"type": "text", "fontSize": 12, "color": "#333333", "font": "Liberation Sans"},
              "encoding": {"text": {"field": "label"}}
            },
            {
              "data": {"values": [
                {"w": 3711, "a": 173, "label": "O-H stretches"},
                {"w": 3711, "a": 155, "label": "(generated H₂O₂) or"},
                {"w": 3711, "a": 138, "label": "C-OH vibration"},
                {"w": 3711, "a": 120, "label": "(adsorbed COOH)"}
              ]},
              "mark": {"type": "text", "align": "left", "fontSize": 13.5, "color": "#f03030", "font": "Liberation Sans", "stroke": "#80ffff", "strokeWidth": 2.5, "strokeOpacity": 0.9},
              "encoding": {"text": {"field": "label"}}
            },
            {
              "data": {"values": [
                {"w": 3711, "a": 173, "label": "O-H stretches"},
                {"w": 3711, "a": 155, "label": "(generated H₂O₂) or"},
                {"w": 3711, "a": 138, "label": "C-OH vibration"},
                {"w": 3711, "a": 120, "label": "(adsorbed COOH)"}
              ]},
              "mark": {"type": "text", "align": "left", "fontSize": 13.5, "color": "#f03030", "font": "Liberation Sans"},
              "encoding": {"text": {"field": "label"}}
            },
            {
              "data": {"values": [{"w": 4000, "w2": 2780, "a": 244}]},
              "mark": {"type": "rule", "color": "#000", "strokeWidth": 1.5, "strokeDash": [9, 3, 2, 3]},
              "encoding": {"x2": {"field": "w2"}}
            },
            {
              "data": {"values": [{"w": 4000, "w2": 2780, "a": 416}]},
              "mark": {"type": "rule", "color": "#000", "strokeWidth": 2},
              "encoding": {"x2": {"field": "w2"}}
            },
            {
              "data": {"values": [{"w": 3750, "a": 0}, {"w": 3500, "a": 0}, {"w": 3250, "a": 0}, {"w": 3000, "a": 0}]},
              "mark": {"type": "rule", "color": "#000", "strokeWidth": 1.5, "y2Offset": -7},
              "encoding": {"y2": {"field": "a"}}
            },
            {
              "data": {"name": "hi"},
              "mark": {"type": "line", "strokeWidth": 1.6, "strokeJoin": "round"},
              "encoding": {"color": {"field": "s", "type": "nominal", "legend": null,
                "scale": {"domain": ["mrGO No ORR", "mrGO-600 No ORR", "mrGO ORR", "mrGO-600 ORR"], "range": ["#000000", "#1a1a8c", "#ff0000", "#0000ff"]}}}
            },
            {
              "data": {"values": [{"w": 3975, "a": 395, "label": "(a)"}]},
              "mark": {"type": "text", "align": "left", "baseline": "middle", "fontSize": 31, "fontWeight": "bold", "color": "#000"},
              "encoding": {"text": {"field": "label"}}
            }
          ]
        },
        {
          "width": 268,
          "height": 416,
          "encoding": {
            "x": {"field": "w", "type": "quantitative", "scale": {"domain": [1200, 2000], "reverse": true, "nice": false, "zero": false},
                  "axis": {"values": [2000, 1800, 1600, 1400, 1200], "format": "d", "labelPadding": 6, "title": "Wavenumber (cm⁻¹)", "titleX": 21, "titleAlign": "center", "titlePadding": 8}},
            "y": {"field": "a", "type": "quantitative", "scale": {"domain": [0, 416], "nice": false, "zero": false},
                  "axis": {"orient": "right", "labels": false, "title": null}}
          },
          "layer": [
            {
              "data": {"values": [{"w": 1764, "w2": 1543, "a": 293, "a2": 384}]},
              "mark": {"type": "rect", "stroke": "#555", "strokeDash": [1, 2], "strokeWidth": 0.8,
                "fill": {"gradient": "linear", "x1": 0, "y1": 0, "x2": 1, "y2": 1, "stops": [
                  {"offset":0,"color":"#fff"},{"offset":0.0545,"color":"#fff"},{"offset":0.0545,"color":"#444"},{"offset":0.0625,"color":"#444"},
                  {"offset":0.0625,"color":"#fff"},{"offset":0.117,"color":"#fff"},{"offset":0.117,"color":"#444"},{"offset":0.125,"color":"#444"},
                  {"offset":0.125,"color":"#fff"},{"offset":0.1795,"color":"#fff"},{"offset":0.1795,"color":"#444"},{"offset":0.1875,"color":"#444"},
                  {"offset":0.1875,"color":"#fff"},{"offset":0.242,"color":"#fff"},{"offset":0.242,"color":"#444"},{"offset":0.25,"color":"#444"},
                  {"offset":0.25,"color":"#fff"},{"offset":0.3045,"color":"#fff"},{"offset":0.3045,"color":"#444"},{"offset":0.3125,"color":"#444"},
                  {"offset":0.3125,"color":"#fff"},{"offset":0.367,"color":"#fff"},{"offset":0.367,"color":"#444"},{"offset":0.375,"color":"#444"},
                  {"offset":0.375,"color":"#fff"},{"offset":0.4295,"color":"#fff"},{"offset":0.4295,"color":"#444"},{"offset":0.4375,"color":"#444"},
                  {"offset":0.4375,"color":"#fff"},{"offset":0.492,"color":"#fff"},{"offset":0.492,"color":"#444"},{"offset":0.5,"color":"#444"},
                  {"offset":0.5,"color":"#fff"},{"offset":0.5545,"color":"#fff"},{"offset":0.5545,"color":"#444"},{"offset":0.5625,"color":"#444"},
                  {"offset":0.5625,"color":"#fff"},{"offset":0.617,"color":"#fff"},{"offset":0.617,"color":"#444"},{"offset":0.625,"color":"#444"},
                  {"offset":0.625,"color":"#fff"},{"offset":0.6795,"color":"#fff"},{"offset":0.6795,"color":"#444"},{"offset":0.6875,"color":"#444"},
                  {"offset":0.6875,"color":"#fff"},{"offset":0.742,"color":"#fff"},{"offset":0.742,"color":"#444"},{"offset":0.75,"color":"#444"},
                  {"offset":0.75,"color":"#fff"},{"offset":0.8045,"color":"#fff"},{"offset":0.8045,"color":"#444"},{"offset":0.8125,"color":"#444"},
                  {"offset":0.8125,"color":"#fff"},{"offset":0.867,"color":"#fff"},{"offset":0.867,"color":"#444"},{"offset":0.875,"color":"#444"},
                  {"offset":0.875,"color":"#fff"},{"offset":0.9295,"color":"#fff"},{"offset":0.9295,"color":"#444"},{"offset":0.9375,"color":"#444"},
                  {"offset":0.9375,"color":"#fff"},{"offset":0.992,"color":"#fff"},{"offset":0.992,"color":"#444"},{"offset":1,"color":"#444"}
                ]}},
              "encoding": {"x2": {"field": "w2"}, "y2": {"field": "a2"}}
            },
            {
              "data": {"values": [{"w": 1812, "w2": 1507, "a": 328, "a2": 349}]},
              "mark": {"type": "rect", "fill": "#ffffff", "stroke": "#bbbbbb", "strokeWidth": 1, "cornerRadius": 3},
              "encoding": {"x2": {"field": "w2"}, "y2": {"field": "a2"}}
            },
            {
              "data": {"values": [{"w": 1660, "a": 338.5, "label": "Desorbed water"}]},
              "mark": {"type": "text", "fontSize": 12, "color": "#333333", "font": "Liberation Sans"},
              "encoding": {"text": {"field": "label"}}
            },
            {
              "data": {"values": [{"w": 1779, "w2": 1469, "a": 46, "a2": 213}]},
              "mark": {"type": "rect", "stroke": "#333", "strokeDash": [1, 2], "strokeWidth": 0.8,
                "fill": {"gradient": "linear", "x1": 0, "y1": 0, "x2": 1, "y2": 1, "stops": [
                  {"offset":0,"color":"#ffff00"},{"offset":0.0545,"color":"#ffff00"},{"offset":0.0545,"color":"#222"},{"offset":0.0625,"color":"#222"},
                  {"offset":0.0625,"color":"#ffff00"},{"offset":0.117,"color":"#ffff00"},{"offset":0.117,"color":"#222"},{"offset":0.125,"color":"#222"},
                  {"offset":0.125,"color":"#ffff00"},{"offset":0.1795,"color":"#ffff00"},{"offset":0.1795,"color":"#222"},{"offset":0.1875,"color":"#222"},
                  {"offset":0.1875,"color":"#ffff00"},{"offset":0.242,"color":"#ffff00"},{"offset":0.242,"color":"#222"},{"offset":0.25,"color":"#222"},
                  {"offset":0.25,"color":"#ffff00"},{"offset":0.3045,"color":"#ffff00"},{"offset":0.3045,"color":"#222"},{"offset":0.3125,"color":"#222"},
                  {"offset":0.3125,"color":"#ffff00"},{"offset":0.367,"color":"#ffff00"},{"offset":0.367,"color":"#222"},{"offset":0.375,"color":"#222"},
                  {"offset":0.375,"color":"#ffff00"},{"offset":0.4295,"color":"#ffff00"},{"offset":0.4295,"color":"#222"},{"offset":0.4375,"color":"#222"},
                  {"offset":0.4375,"color":"#ffff00"},{"offset":0.492,"color":"#ffff00"},{"offset":0.492,"color":"#222"},{"offset":0.5,"color":"#222"},
                  {"offset":0.5,"color":"#ffff00"},{"offset":0.5545,"color":"#ffff00"},{"offset":0.5545,"color":"#222"},{"offset":0.5625,"color":"#222"},
                  {"offset":0.5625,"color":"#ffff00"},{"offset":0.617,"color":"#ffff00"},{"offset":0.617,"color":"#222"},{"offset":0.625,"color":"#222"},
                  {"offset":0.625,"color":"#ffff00"},{"offset":0.6795,"color":"#ffff00"},{"offset":0.6795,"color":"#222"},{"offset":0.6875,"color":"#222"},
                  {"offset":0.6875,"color":"#ffff00"},{"offset":0.742,"color":"#ffff00"},{"offset":0.742,"color":"#222"},{"offset":0.75,"color":"#222"},
                  {"offset":0.75,"color":"#ffff00"},{"offset":0.8045,"color":"#ffff00"},{"offset":0.8045,"color":"#222"},{"offset":0.8125,"color":"#222"},
                  {"offset":0.8125,"color":"#ffff00"},{"offset":0.867,"color":"#ffff00"},{"offset":0.867,"color":"#222"},{"offset":0.875,"color":"#222"},
                  {"offset":0.875,"color":"#ffff00"},{"offset":0.9295,"color":"#ffff00"},{"offset":0.9295,"color":"#222"},{"offset":0.9375,"color":"#222"},
                  {"offset":0.9375,"color":"#ffff00"},{"offset":0.992,"color":"#ffff00"},{"offset":0.992,"color":"#222"},{"offset":1,"color":"#222"}
                ]}},
              "encoding": {"x2": {"field": "w2"}, "y2": {"field": "a2"}}
            },
            {
              "data": {"values": [{"w": 1809, "w2": 1460, "a": 107, "a2": 144}]},
              "mark": {"type": "rect", "fill": "#ffff00", "stroke": "#e6e600", "strokeWidth": 0.6},
              "encoding": {"x2": {"field": "w2"}, "y2": {"field": "a2"}}
            },
            {
              "data": {"values": [
                {"w": 1779, "a": 131, "label": "Asymmetric COO⁻"},
                {"w": 1779, "a": 115, "label": "(adsorbed)"}
              ]},
              "mark": {"type": "text", "align": "left", "fontSize": 13.5, "color": "#ff2a00", "font": "Liberation Sans"},
              "encoding": {"text": {"field": "label"}}
            },
            {
              "data": {"values": [{"w": 2000, "w2": 1200, "a": 244}]},
              "mark": {"type": "rule", "color": "#000", "strokeWidth": 1.5, "strokeDash": [9, 3, 2, 3]},
              "encoding": {"x2": {"field": "w2"}}
            },
            {
              "data": {"values": [{"w": 2000, "w2": 1200, "a": 416}]},
              "mark": {"type": "rule", "color": "#000", "strokeWidth": 2},
              "encoding": {"x2": {"field": "w2"}}
            },
            {
              "data": {"values": [{"w": 1900, "a": 0}, {"w": 1800, "a": 0}, {"w": 1700, "a": 0}, {"w": 1600, "a": 0}, {"w": 1500, "a": 0}, {"w": 1400, "a": 0}, {"w": 1300, "a": 0}]},
              "mark": {"type": "rule", "color": "#000", "strokeWidth": 1.5, "y2Offset": -7},
              "encoding": {"y2": {"field": "a"}}
            },
            {
              "data": {"name": "lo"},
              "mark": {"type": "line", "strokeWidth": 1.6, "strokeJoin": "round"},
              "encoding": {"color": {"field": "s", "type": "nominal", "legend": null,
                "scale": {"domain": ["mrGO No ORR", "mrGO-600 No ORR", "mrGO ORR", "mrGO-600 ORR"], "range": ["#000000", "#1a1a8c", "#ff0000", "#0000ff"]}}}
            },
            {
              "data": {"values": [
                {"w": 1227, "a": 396, "s": "mrGO No ORR"},
                {"w": 1236, "a": 281, "s": "mrGO-600 No ORR"},
                {"w": 1215, "a": 161, "s": "mrGO ORR"},
                {"w": 1230, "a": 35, "s": "mrGO-600 ORR"}
              ]},
              "mark": {"type": "text", "align": "right", "baseline": "middle", "fontSize": 19, "fontWeight": "bold"},
              "encoding": {"text": {"field": "s"}, "color": {"field": "s", "type": "nominal", "legend": null,
                "scale": {"domain": ["mrGO No ORR", "mrGO-600 No ORR", "mrGO ORR", "mrGO-600 ORR"], "range": ["#000000", "#1a1a8c", "#ff0000", "#0000ff"]}}}
            },
            {
              "data": {"values": [{"w": 2000, "a": 0, "label": "//"}, {"w": 2000, "a": 416, "label": "//"}]},
              "mark": {"type": "text", "dx": -3, "baseline": "middle", "fontSize": 20, "color": "#000"},
              "encoding": {"text": {"field": "label"}}
            }
          ]
        }
      ]
    },
    {
      "width": 395,
      "height": 416,
      "view": {"stroke": "#000", "strokeWidth": 2},
      "encoding": {
        "x": {"field": "t", "type": "quantitative", "scale": {"domain": [0, 180], "nice": false, "zero": false},
              "axis": {"values": [0, 60, 120, 180], "labelPadding": 6, "title": "Time (sec)", "titlePadding": 6}},
        "y": {"field": "i", "type": "quantitative", "scale": {"domain": [-0.2, 0.05], "nice": false, "zero": false},
              "axis": {"values": [-0.2, -0.15, -0.1, -0.05, 0, 0.05], "labelExpr": "replace(format(datum.value, '.2f'), '\u2212', '-')", "labelPadding": 9, "title": "Current (mA)", "titlePadding": 10}}
      },
      "layer": [
        {
          "data": {"values": [{"t": 30, "i": -0.2}, {"t": 60, "i": -0.2}, {"t": 90, "i": -0.2}, {"t": 120, "i": -0.2}, {"t": 150, "i": -0.2}]},
          "mark": {"type": "rule", "color": "#000", "strokeWidth": 1.5, "y2Offset": -6},
          "encoding": {"y2": {"field": "i"}}
        },
        {
          "data": {"values": [{"t": 0, "i": -0.175}, {"t": 0, "i": -0.15}, {"t": 0, "i": -0.125}, {"t": 0, "i": -0.1}, {"t": 0, "i": -0.075}, {"t": 0, "i": -0.05}, {"t": 0, "i": -0.025}, {"t": 0, "i": 0}, {"t": 0, "i": 0.025}]},
          "mark": {"type": "rule", "color": "#000", "strokeWidth": 1.5, "x2Offset": 6},
          "encoding": {"x2": {"field": "t"}}
        },
        {
          "data": {"name": "ca"},
          "mark": {"type": "line", "strokeWidth": 1.6, "strokeJoin": "round"},
          "encoding": {"color": {"field": "s", "type": "nominal", "legend": null,
            "scale": {"domain": ["mrGO No ORR", "mrGO-600 No ORR", "mrGO ORR", "mrGO-600 ORR"], "range": ["#000000", "#1a1a8c", "#ff0000", "#0000ff"]}}}
        },
        {
          "data": {"values": [
            {"t": 174, "i": 0.0133, "s": "mrGO No ORR"},
            {"t": 174, "i": -0.0113, "s": "mrGO-600 No ORR"},
            {"t": 174.5, "i": -0.0642, "s": "mrGO ORR"},
            {"t": 174, "i": -0.1489, "s": "mrGO-600 ORR"}
          ]},
          "mark": {"type": "text", "align": "right", "baseline": "middle", "fontSize": 19, "fontWeight": "bold"},
          "encoding": {"text": {"field": "s"}, "color": {"field": "s", "type": "nominal", "legend": null,
            "scale": {"domain": ["mrGO No ORR", "mrGO-600 No ORR", "mrGO ORR", "mrGO-600 ORR"], "range": ["#000000", "#1a1a8c", "#ff0000", "#0000ff"]}}}
        },
        {
          "data": {"values": [{"t": 1, "i": 0.0374, "label": "(b)"}]},
          "mark": {"type": "text", "align": "left", "baseline": "middle", "fontSize": 31, "fontWeight": "bold", "color": "#000"},
          "encoding": {"text": {"field": "label"}}
        }
      ]
    }
  ]
}
